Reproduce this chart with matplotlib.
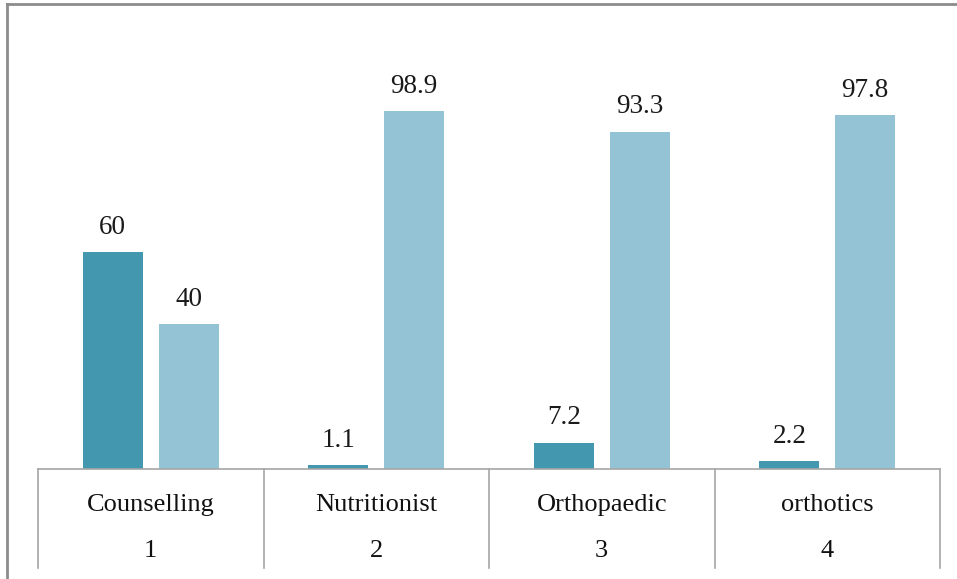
import matplotlib
matplotlib.use('Agg')
import matplotlib.pyplot as plt
from matplotlib.lines import Line2D
import numpy as np

categories = ['Counselling', 'Nutritionist', 'Orthopaedic', 'orthotics']
numbers = ['1', '2', '3', '4']
yes_values = [60, 1.1, 7.2, 2.2]
no_values = [40, 98.9, 93.3, 97.8]

dark = '#4397ae'
light = '#93c3d4'

plt.rcParams['font.family'] = ['Liberation Serif', 'DejaVu Serif']

fig = plt.figure(figsize=(9.57, 5.79), dpi=100)
ax = fig.add_axes([38/957, 1 - 469/579, 902/957, 434/579])

x = np.arange(len(categories))
w = 0.266
off = 0.168
b1 = ax.bar(x - off, yes_values, w, color=dark)
b2 = ax.bar(x + off, no_values, w, color=light)

for bars, vals in ((b1, yes_values), (b2, no_values)):
    for b, v in zip(bars, vals):
        ax.annotate('%g' % v, (b.get_x() + b.get_width()/2, v),
                    xytext=(0, 9), textcoords='offset points',
                    ha='center', va='bottom', fontsize=19.5, color='#1a1a1a')

ax.set_xlim(-0.5, 3.5)
ax.set_ylim(0, 120)
for s in ['top', 'right', 'left']:
    ax.spines[s].set_visible(False)
ax.spines['bottom'].set_color('#a6a6a6')
ax.spines['bottom'].set_linewidth(1.2)
ax.set_xticks([])
ax.set_yticks([])

tr = ax.get_xaxis_transform()
for i, (c, n) in enumerate(zip(categories, numbers)):
    ax.text(i, -0.083, c, transform=tr, ha='center', va='center',
            fontsize=19, color='#111111')
    ax.text(i, -0.189, n, transform=tr, ha='center', va='center',
            fontsize=19, color='#111111')
for xe in np.arange(-0.5, 4.0, 1.0):
    ax.add_line(Line2D([xe, xe], [0, -0.228], transform=tr, color='#a6a6a6',
                       lw=1.2, clip_on=False))

# outer frame (top and left only)
fig.add_artist(Line2D([7/957, 1], [1 - 4/579, 1 - 4/579],
                      transform=fig.transFigure, color='#8c8c8c', lw=2))
fig.add_artist(Line2D([7/957, 7/957], [0, 1 - 4/579],
                      transform=fig.transFigure, color='#8c8c8c', lw=2))

fig.savefig('out.png', dpi=100)
